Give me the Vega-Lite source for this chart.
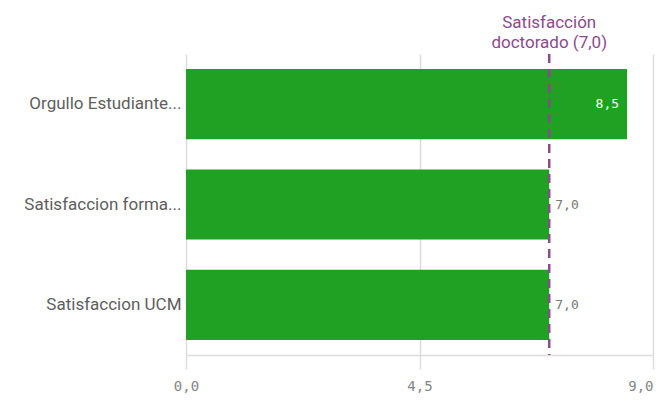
{
  "$schema": "https://vega.github.io/schema/vega-lite/v6.json",
  "width": 467,
  "height": 301,
  "autosize": {"type": "none"},
  "padding": {"left": 186, "top": 54, "right": 19, "bottom": 52},
  "background": "white",
  "config": {
    "view": {"stroke": null},
    "locale": {"number": {"decimal": ",", "thousands": ".", "grouping": [3], "currency": ["", " €"]}}
  },
  "datasets": {
    "bars": [
      {"category": "Orgullo Estudiante...", "value": 8.5},
      {"category": "Satisfaccion forma...", "value": 7.0},
      {"category": "Satisfaccion UCM", "value": 7.0}
    ],
    "ref": [{"value": 7.0, "label": ["Satisfacción", "doctorado (7,0)"]}]
  },
  "layer": [
    {
      "data": {"name": "bars"},
      "mark": {"type": "bar", "color": "#21a124"},
      "encoding": {
        "y": {
          "field": "category", "type": "nominal", "sort": null,
          "scale": {"paddingInner": 0.3, "paddingOuter": 0.15},
          "axis": {"title": null, "ticks": false, "domain": false, "labelFont": "Roboto", "labelFontSize": 17, "labelFontWeight": 400, "labelColor": "#5e5e5e", "labelPadding": 5, "labelLimit": 185}
        },
        "x": {
          "field": "value", "type": "quantitative",
          "scale": {"domain": [0, 9], "nice": false},
          "axis": {"title": null, "values": [0, 4.5, 9], "format": ".1f", "grid": true, "gridColor": "#dcdcdc", "gridWidth": 1.5, "domainColor": "#dcdcdc", "domainWidth": 1.5, "tickColor": "#dcdcdc", "tickSize": 14, "tickWidth": 1.5, "labelPadding": 10, "labelFont": "DejaVu Sans Mono", "labelFontSize": 14, "labelColor": "#858585", "labelFlush": false,
            "labelAlign": {"condition": {"test": "datum.value >= 9", "value": "right"}, "value": "center"}}
        }
      }
    },
    {
      "data": {"name": "bars"},
      "transform": [{"filter": "datum.value > 8"}],
      "mark": {"type": "text", "align": "right", "dx": -8, "font": "DejaVu Sans Mono", "fontSize": 13, "color": "white"},
      "encoding": {
        "y": {"field": "category", "type": "nominal", "sort": null},
        "x": {"field": "value", "type": "quantitative"},
        "text": {"field": "value", "type": "quantitative", "format": ".1f"}
      }
    },
    {
      "data": {"name": "bars"},
      "transform": [{"filter": "datum.value <= 8"}],
      "mark": {"type": "text", "align": "left", "dx": 6, "font": "DejaVu Sans Mono", "fontSize": 13, "color": "#777777"},
      "encoding": {
        "y": {"field": "category", "type": "nominal", "sort": null},
        "x": {"field": "value", "type": "quantitative"},
        "text": {"field": "value", "type": "quantitative", "format": ".1f"}
      }
    },
    {
      "data": {"name": "ref"},
      "mark": {"type": "rule", "color": "#8b4a8c", "strokeWidth": 2.5, "strokeDash": [9, 6]},
      "encoding": {"x": {"field": "value", "type": "quantitative"}}
    },
    {
      "data": {"name": "ref"},
      "mark": {"type": "text", "baseline": "bottom", "align": "center", "dy": -22, "font": "Roboto", "fontSize": 17, "fontWeight": 400, "lineHeight": 20, "color": "#8b4a8c"},
      "encoding": {
        "x": {"field": "value", "type": "quantitative"},
        "y": {"value": 0},
        "text": {"field": "label"}
      }
    }
  ]
}
